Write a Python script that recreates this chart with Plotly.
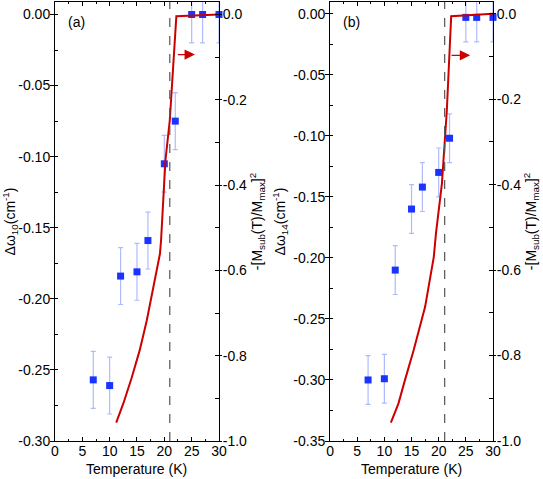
import plotly.graph_objects as go

# ---- data ----
T_pts = [7, 10, 12, 15, 17, 20, 22, 25, 27, 30]
dw10 = [-0.257, -0.261, -0.184, -0.181, -0.159, -0.105, -0.075, 0.000, 0.000, 0.000]
dw14 = [-0.300, -0.299, -0.210, -0.160, -0.142, -0.130, -0.102, -0.003, -0.003, -0.003]
err_a = [0.02] * 10
err_b = [0.02] * 10

T_curve_a = [11.2, 12.5, 14.0, 15.5, 16.8, 18.0, 19.2, 19.4, 20.2, 21.0, 21.6, 22.2, 30.0]
M_curve_a = [-0.957, -0.912, -0.853, -0.787, -0.717, -0.639, -0.561, -0.530, -0.342, -0.248, -0.123, -0.004, 0.000]
T_curve_b = [11.2, 12.6, 13.8, 15.4, 17.5, 19.1, 19.5, 20.6, 21.5, 22.3, 30.0]
M_curve_b = [-0.957, -0.912, -0.857, -0.787, -0.686, -0.569, -0.514, -0.397, -0.226, -0.006, 0.000]

Tc = [21.0, 21.1]

left_ticks_a = [-0.30, -0.25, -0.20, -0.15, -0.10, -0.05, 0.00]
left_text_a = ["-0.30", "-0.25", "-0.20", "-0.15", "-0.10", "-0.05", "0.00"]
left_ticks_b = [-0.35, -0.30, -0.25, -0.20, -0.15, -0.10, -0.05, 0.00]
left_text_b = ["-0.35", "-0.30", "-0.25", "-0.20", "-0.15", "-0.10", "-0.05", "0.00"]
right_ticks = [-1.0, -0.8, -0.6, -0.4, -0.2, 0.0]
right_text = ["-1.0", "-0.8", "-0.6", "-0.4", "-0.2", "0.0"]
x_ticks = [0, 5, 10, 15, 20, 25, 30]

BLUE = "#1a33ff"
ERR = "rgba(130,150,255,0.65)"
RED = "#cc0000"
FONT = "Liberation Sans, Arial, sans-serif"

fig = go.Figure()

# panel (a)
fig.add_trace(go.Scatter(x=T_pts, y=dw10, mode="markers", xaxis="x", yaxis="y",
                         marker=dict(symbol="square", size=7, color=BLUE),
                         error_y=dict(type="data", array=err_a, color=ERR, thickness=1.2, width=2.5),
                         showlegend=False, cliponaxis=False))
fig.add_trace(go.Scatter(x=T_curve_a, y=M_curve_a, mode="lines", xaxis="x", yaxis="y2",
                         line=dict(color=RED, width=2), showlegend=False))
# panel (b)
fig.add_trace(go.Scatter(x=T_pts, y=dw14, mode="markers", xaxis="x2", yaxis="y3",
                         marker=dict(symbol="square", size=7, color=BLUE),
                         error_y=dict(type="data", array=err_b, color=ERR, thickness=1.2, width=2.5),
                         showlegend=False, cliponaxis=False))
fig.add_trace(go.Scatter(x=T_curve_b, y=M_curve_b, mode="lines", xaxis="x2", yaxis="y4",
                         line=dict(color=RED, width=2), showlegend=False))

tickfont = dict(family=FONT, size=14, color="black")
titlefont = dict(family=FONT, size=14, color="black")

def xax(domain, anchor):
    return dict(domain=domain, anchor=anchor, range=[0, 30], tickvals=x_ticks,
                ticks="inside", ticklen=4, tickcolor="black", showline=True, linecolor="black",
                linewidth=1, mirror="ticks", showgrid=False, zeroline=False, tickfont=tickfont,
                ticklabelstandoff=-3,
                minor=dict(dtick=2.5, tick0=0, ticks="inside", ticklen=2, tickcolor="black", showgrid=False))

def yleft(anchor, rng, tv, tt, title):
    return dict(anchor=anchor, range=rng, tickvals=tv, ticktext=tt, ticks="outside", ticklen=4,
                tickcolor="black", showline=True, linecolor="black", linewidth=1, showgrid=False,
                zeroline=False, tickfont=tickfont, ticklabelstandoff=-3,
                minor=dict(dtick=0.025, tick0=0, ticks="inside", ticklen=3, tickcolor="black", showgrid=False),
                title=dict(text=title, font=titlefont, standoff=4))

def yright(anchor, overlay, rng):
    return dict(anchor=anchor, overlaying=overlay, side="right", range=rng, tickvals=right_ticks,
                ticktext=right_text, ticks="outside", ticklen=2, tickcolor="black", showline=True,
                linecolor="black", linewidth=1, showgrid=False, zeroline=False, tickfont=tickfont,
                ticklabelstandoff=-2,
                minor=dict(dtick=0.1, tick0=0, ticks="inside", ticklen=4, tickcolor="black", showgrid=False),
                title=dict(text="-[M<sub>sub</sub>(T)/M<sub>max</sub>]<sup>2</sup>", font=titlefont, standoff=0))

fig.update_layout(
    width=543, height=479,
    margin=dict(l=55, r=50, t=2, b=38),
    paper_bgcolor="white", plot_bgcolor="white",
    font=dict(family=FONT, size=14, color="black"),
    xaxis=xax([0, 0.3744], "y"),
    yaxis=yleft("x", [-0.30, 0.0088], left_ticks_a, left_text_a, "Δω<sub>10</sub>(cm<sup>-1</sup>)"),
    yaxis2=yright("x", "y", [-1.0, 0.0293]),
    xaxis2=xax([0.628, 1.0], "y3"),
    yaxis3=yleft("x2", [-0.35, 0.0096], left_ticks_b, left_text_b, "Δω<sub>14</sub>(cm<sup>-1</sup>)"),
    yaxis4=yright("x2", "y3", [-1.0, 0.0273]),
    shapes=[
        dict(type="line", xref="x", yref="y domain", x0=Tc[0], x1=Tc[0], y0=0, y1=1,
             line=dict(color="#555555", width=1.2, dash="dash")),
        dict(type="line", xref="x2", yref="y3 domain", x0=Tc[1], x1=Tc[1], y0=0, y1=1,
             line=dict(color="#555555", width=1.2, dash="dash")),
    ],
    annotations=[
        dict(text="(a)", xref="x domain", yref="y domain", x=0.07, y=0.954, xanchor="left",
             yanchor="middle", showarrow=False, font=titlefont),
        dict(text="(b)", xref="x2 domain", yref="y3 domain", x=0.065, y=0.954, xanchor="left",
             yanchor="middle", showarrow=False, font=titlefont),
        dict(text="Temperature (K)", xref="x domain", yref="y domain", x=0.5, y=-0.064,
             xanchor="center", yanchor="middle", showarrow=False, font=titlefont),
        dict(text="Temperature (K)", xref="x2 domain", yref="y3 domain", x=0.5, y=-0.064,
             xanchor="center", yanchor="middle", showarrow=False, font=titlefont),
        dict(text="", x=25.6, y=-0.094, xref="x", yref="y2", ax=22.2, ay=-0.094, axref="x", ayref="y2",
             showarrow=True, arrowhead=2, arrowsize=1.6, arrowwidth=1.3, arrowcolor=RED),
        dict(text="", x=25.8, y=-0.0975, xref="x2", yref="y4", ax=22.1, ay=-0.0975, axref="x2", ayref="y4",
             showarrow=True, arrowhead=2, arrowsize=1.6, arrowwidth=1.3, arrowcolor=RED),
    ],
)

fig.write_html("out.html", config={"displayModeBar": False},
               post_script="document.body.style.margin='0';document.body.style.padding='0';")
